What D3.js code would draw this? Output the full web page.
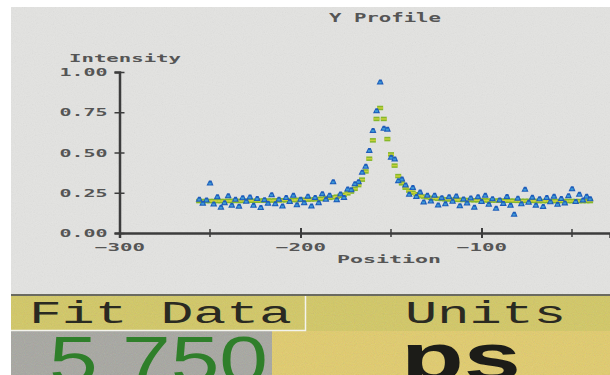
<!DOCTYPE html>
<html>
<head>
<meta charset="utf-8">
<script src="https://cdn.jsdelivr.net/npm/d3@7"></script>
<style>
  body { margin: 0; background: #fff; }
  svg { display: block; }
</style>
</head>
<body>
<div id="chart"></div>
<script>
// positions (x) of the profile samples
const positions = [
  -256, -254, -252, -250, -248, -246, -244, -242, -240, -238,
  -236, -234, -232, -230, -228, -226, -224, -222, -220, -218,
  -216, -214, -212, -210, -208, -206, -204, -202, -200, -198,
  -196, -194, -192, -190, -188, -186, -184, -182, -180, -178,
  -176, -174, -172, -170, -168, -166, -164, -162, -160, -158,
  -156, -154, -152, -150, -148, -146, -144, -142, -140, -138,
  -136, -134, -132, -130, -128, -126, -124, -122, -120, -118,
  -116, -114, -112, -110, -108, -106, -104, -102, -100, -98,
  -96, -94, -92, -90, -88, -86, -84, -82, -80, -78,
  -76, -74, -72, -70, -68, -66, -64, -62, -60, -58,
  -56, -54, -52, -50, -48, -46, -44, -42, -40
];

// measured intensity (blue)
const measured = [
  0.210, 0.185, 0.205, 0.310, 0.180, 0.225, 0.160, 0.188, 0.231, 0.173,
  0.209, 0.166, 0.219, 0.197, 0.224, 0.172, 0.214, 0.158, 0.207, 0.185,
  0.238, 0.182, 0.210, 0.167, 0.220, 0.196, 0.234, 0.175, 0.209, 0.188,
  0.229, 0.168, 0.221, 0.188, 0.244, 0.209, 0.235, 0.318, 0.207, 0.242,
  0.221, 0.273, 0.269, 0.306, 0.319, 0.378, 0.414, 0.513, 0.637, 0.760,
  0.938, 0.650, 0.645, 0.470, 0.460, 0.325, 0.335, 0.298, 0.240, 0.282,
  0.227, 0.254, 0.193, 0.234, 0.198, 0.235, 0.174, 0.219, 0.181, 0.225,
  0.197, 0.230, 0.169, 0.211, 0.186, 0.218, 0.160, 0.225, 0.196, 0.234,
  0.178, 0.213, 0.153, 0.205, 0.184, 0.226, 0.172, 0.117, 0.216, 0.181,
  0.271, 0.191, 0.222, 0.173, 0.212, 0.165, 0.220, 0.194, 0.228, 0.178,
  0.214, 0.187, 0.232, 0.275, 0.196, 0.240, 0.205, 0.228, 0.212
];

// fitted profile (green)
const fitted = [
  0.200, 0.200, 0.200, 0.200, 0.200, 0.200, 0.200, 0.200, 0.201, 0.201,
  0.201, 0.201, 0.201, 0.202, 0.202, 0.202, 0.202, 0.203, 0.203, 0.203,
  0.203, 0.204, 0.204, 0.205, 0.205, 0.206, 0.206, 0.207, 0.207, 0.208,
  0.209, 0.210, 0.211, 0.213, 0.214, 0.217, 0.220, 0.223, 0.227, 0.232,
  0.239, 0.248, 0.259, 0.276, 0.299, 0.333, 0.384, 0.463, 0.577, 0.710,
  0.778, 0.710, 0.585, 0.490, 0.420, 0.355, 0.310, 0.283, 0.265, 0.252,
  0.242, 0.234, 0.228, 0.224, 0.220, 0.217, 0.214, 0.213, 0.211, 0.210,
  0.209, 0.208, 0.207, 0.207, 0.206, 0.206, 0.205, 0.205, 0.204, 0.204,
  0.203, 0.203, 0.203, 0.203, 0.202, 0.202, 0.202, 0.202, 0.201, 0.201,
  0.201, 0.201, 0.201, 0.201, 0.200, 0.200, 0.200, 0.200, 0.200, 0.200,
  0.200, 0.200, 0.200, 0.200, 0.200, 0.200, 0.200, 0.200, 0.200
];

const yTicks = [0, 0.25, 0.5, 0.75, 1];
const xMajor = [-300, -200, -100];
const xMinor = [-250, -150, -50];

const title = "Y Profile",
      yTitle = "Intensity",
      xTitle = "Position";

const fitLabel = "Fit Data",
      unitsLabel = "Units",
      fitValue = "5.750",
      unitsValue = "ps";

const width = 610, height = 375;

const svg = d3.select("#chart").append("svg")
    .attr("width", width)
    .attr("height", height);

const defs = svg.append("defs");
const grey = defs.append("filter").attr("id", "grain")
    .attr("x", 0).attr("y", 0).attr("width", 1).attr("height", 1);
grey.append("feTurbulence").attr("type", "fractalNoise")
    .attr("baseFrequency", 0.9).attr("numOctaves", 2).attr("seed", 4);
grey.append("feColorMatrix").attr("type", "saturate").attr("values", 0);

const speck = defs.append("filter").attr("id", "speck")
    .attr("x", 0).attr("y", 0).attr("width", 1).attr("height", 1);
speck.append("feTurbulence").attr("type", "fractalNoise")
    .attr("baseFrequency", 1.1).attr("numOctaves", 1).attr("seed", 9);

// chart screen
svg.append("rect").attr("x", 11).attr("y", 7).attr("width", 599).attr("height", 287)
    .attr("fill", "#e3e3e1");
svg.append("rect").attr("x", 11).attr("y", 7).attr("width", 599).attr("height", 287)
    .attr("filter", "url(#grain)").attr("opacity", 0.12);

// bottom readout panel
svg.append("rect").attr("x", 11).attr("y", 294).attr("width", 599).attr("height", 2)
    .attr("fill", "#6a6a60");
svg.append("rect").attr("x", 11).attr("y", 296).attr("width", 599).attr("height", 79)
    .attr("fill", "#d3c862");
svg.append("rect").attr("x", 272).attr("y", 331).attr("width", 338).attr("height", 44)
    .attr("fill", "#e2cc6a");
svg.append("rect").attr("x", 11).attr("y", 331).attr("width", 261).attr("height", 44)
    .attr("fill", "#a6a6a0");
svg.append("rect").attr("x", 11).attr("y", 296).attr("width", 599).attr("height", 79)
    .attr("filter", "url(#speck)").attr("opacity", 0.22);
// white outline of the "Fit Data" box
svg.append("path")
    .attr("d", "M11,330.5 H305.5 V296")
    .attr("fill", "none").attr("stroke", "#f4f4ee").attr("stroke-width", 1.5);

const panelFont = "'Liberation Mono', 'DejaVu Sans Mono', monospace";
svg.append("text").attr("x", 29).attr("y", 323)
    .attr("font-family", panelFont).attr("font-size", 31)
    .attr("textLength", 263).attr("lengthAdjust", "spacingAndGlyphs")
    .attr("fill", "#2a2a22").text(fitLabel);
svg.append("text").attr("x", 405).attr("y", 323)
    .attr("font-family", panelFont).attr("font-size", 31)
    .attr("textLength", 161).attr("lengthAdjust", "spacingAndGlyphs")
    .attr("fill", "#2a2a22").text(unitsLabel);
svg.append("text").attr("x", 49).attr("y", 383)
    .attr("font-family", "'Liberation Sans', Arial, sans-serif").attr("font-size", 66)
    .attr("textLength", 219).attr("lengthAdjust", "spacingAndGlyphs")
    .attr("fill", "#2f7f2a").text(fitValue);
svg.append("text").attr("x", 401).attr("y", 380)
    .attr("font-family", "'Liberation Sans', Arial, sans-serif").attr("font-size", 66)
    .attr("font-weight", "bold")
    .attr("textLength", 120).attr("lengthAdjust", "spacingAndGlyphs")
    .attr("fill", "#1c1c18").text(unitsValue);

// plot
const x = d3.scaleLinear().domain([-300, -29]).range([119.5, 610]);
const y = d3.scaleLinear().domain([0, 1]).range([233, 72]);

const axisFont = "'DejaVu Sans Mono', monospace";
const ink = "#3c3c3c";

const yAxis = svg.append("g")
    .attr("transform", `translate(${x(-300)},0)`)
    .call(d3.axisLeft(y).tickValues(yTicks).tickSize(5).tickPadding(7)
        .tickFormat(d3.format(".2f")));
yAxis.select(".domain").attr("stroke", ink).attr("stroke-width", 2.5);
yAxis.selectAll(".tick line").attr("x1", -5).attr("x2", 5)
    .attr("stroke", ink).attr("stroke-width", 1.5);
yAxis.selectAll(".tick text")
    .attr("font-family", axisFont).attr("font-size", 11).attr("font-weight", "bold")
    .attr("fill", "#555").attr("textLength", 48).attr("lengthAdjust", "spacingAndGlyphs");

const xAxis = svg.append("g")
    .attr("transform", `translate(0,${y(0)})`)
    .call(d3.axisBottom(x).tickValues(xMajor).tickSize(5).tickPadding(5)
        .tickFormat(d => "\u2212" + Math.abs(d)));
xAxis.select(".domain").attr("stroke", ink).attr("stroke-width", 2.5);
xAxis.selectAll(".tick line").attr("y1", -5).attr("y2", 5)
    .attr("stroke", ink).attr("stroke-width", 2);
xAxis.selectAll(".tick text")
    .attr("font-family", axisFont).attr("font-size", 11).attr("font-weight", "bold")
    .attr("fill", "#555").attr("textLength", 50).attr("lengthAdjust", "spacingAndGlyphs");

svg.append("g").selectAll("line").data(xMinor).join("line")
    .attr("x1", d => x(d)).attr("x2", d => x(d))
    .attr("y1", y(0) - 4).attr("y2", y(0) + 4)
    .attr("stroke", ink).attr("stroke-width", 1.5);

// titles
svg.append("text").attr("x", 329).attr("y", 22)
    .attr("font-family", axisFont).attr("font-size", 12).attr("font-weight", "bold")
    .attr("fill", "#555").attr("textLength", 112).attr("lengthAdjust", "spacingAndGlyphs")
    .text(title);
svg.append("text").attr("x", 69).attr("y", 62)
    .attr("font-family", axisFont).attr("font-size", 11).attr("font-weight", "bold")
    .attr("fill", "#555").attr("textLength", 112).attr("lengthAdjust", "spacingAndGlyphs")
    .text(yTitle);
svg.append("text").attr("x", 337).attr("y", 263)
    .attr("font-family", axisFont).attr("font-size", 11).attr("font-weight", "bold")
    .attr("fill", "#555").attr("textLength", 104).attr("lengthAdjust", "spacingAndGlyphs")
    .text(xTitle);

// data
const rows = positions.map((p, i) => ({ p, m: measured[i], f: fitted[i] }));

svg.append("g").selectAll("rect").data(rows).join("rect")
    .attr("x", d => x(d.p) - 3).attr("y", d => y(d.f) - 2)
    .attr("width", 6).attr("height", 4.5)
    .attr("fill", "#86b82a");
svg.append("g").selectAll("rect").data(rows).join("rect")
    .attr("x", d => x(d.p) - 3).attr("y", d => y(d.f) - 0.5)
    .attr("width", 6).attr("height", 1.5)
    .attr("fill", "#d4d23e").attr("opacity", 0.85);

svg.append("g").selectAll("path").data(rows).join("path")
    .attr("d", d => {
        const cx = x(d.p), cy = y(d.m);
        return `M${cx - 3.5},${cy + 2.5} L${cx - 1},${cy - 2.5} L${cx + 1.5},${cy - 2.5} L${cx + 3.5},${cy + 2.5} Z`;
    })
    .attr("fill", "#1e5cba");
svg.append("g").selectAll("rect").data(rows).join("rect")
    .attr("x", d => x(d.p) - 1.5).attr("y", d => y(d.m) - 0.5)
    .attr("width", 3).attr("height", 2)
    .attr("fill", "#3b98d6");
</script>
</body>
</html>
